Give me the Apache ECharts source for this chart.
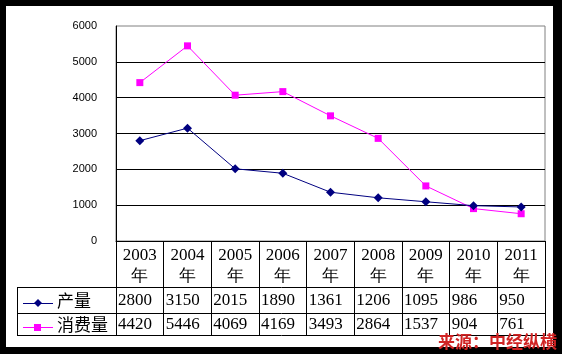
<!DOCTYPE html>
<html><head><meta charset="utf-8">
<script src="https://cdn.jsdelivr.net/npm/echarts@6/dist/echarts.min.js"></script>
<style>
html,body{margin:0;padding:0;background:#000;}
#wrap{position:relative;width:562px;height:354px;background:#000;}
#paper{position:absolute;left:6px;top:6px;width:547px;height:341px;background:#fff;}
#c{position:absolute;left:0;top:0;width:562px;height:354px;}
</style>
</head><body>
<div id="wrap"><div id="paper"></div><div id="c"></div></div>
<script>
const years = ['2003','2004','2005','2006','2007','2008','2009','2010','2011'];
const yearSuffix = '年';
const seriesNames = ['产量', '消费量'];
const production = [2800, 3150, 2015, 1890, 1361, 1206, 1095, 986, 950];
const consumption = [4420, 5446, 4069, 4169, 3493, 2864, 1537, 904, 761];
const yTicks = [0, 1000, 2000, 3000, 4000, 5000, 6000];
const sourceText = '来源：中经纵横';

const W = 562, H = 354;
const G = {left: 116, right: 17, top: 26, bottom: 113};
const headerH = 46, rowH = [26, 22], legendLeft = 17;
const colors = ['#000080', '#ff00ff'];
const numFont = '"Liberation Serif", serif';
const cjkFont = '"Noto Sans CJK SC", sans-serif';

const chart = echarts.init(document.getElementById('c'), null, {renderer: 'canvas'});
const tableBottom = H - G.bottom + headerH + rowH[0] + rowH[1];

chart.setOption({
  backgroundColor: 'transparent',
  animation: false,
  grid: {left: G.left, right: G.right, top: G.top, bottom: G.bottom, show: true,
         borderColor: '#808080', borderWidth: 1, backgroundColor: 'transparent'},
  xAxis: {
    type: 'category', data: years, boundaryGap: true,
    axisLine: {show: true, lineStyle: {color: '#000', width: 1}},
    axisTick: {show: true, length: headerH + rowH[0] + rowH[1], lineStyle: {color: '#000'}},
    axisLabel: {
      formatter: v => v + '\n' + yearSuffix,
      fontFamily: numFont, fontSize: 17, lineHeight: 21, color: '#000', margin: 4,
      interval: 0
    },
    splitLine: {show: false}
  },
  yAxis: {
    type: 'value', min: yTicks[0], max: yTicks[yTicks.length - 1], interval: yTicks[1] - yTicks[0],
    axisLine: {show: true, lineStyle: {color: '#000'}},
    axisTick: {show: false},
    axisLabel: {formatter: v => String(v), fontFamily: '"Liberation Sans", Arial, sans-serif', fontSize: 11, color: '#000', margin: 19},
    splitLine: {show: true, showMaxLine: false, lineStyle: {color: '#000', width: 1}}
  },
  series: [
    {name: seriesNames[0], type: 'line', data: production, symbol: 'diamond', symbolSize: 9,
     lineStyle: {color: colors[0], width: 1}, itemStyle: {color: colors[0]}, z: 3},
    {name: seriesNames[1], type: 'line', data: consumption, symbol: 'rect', symbolSize: 7,
     lineStyle: {color: colors[1], width: 1}, itemStyle: {color: colors[1]}, z: 2}
  ]
});

// data table below the axis, positioned from the axis scale
const plotRight = W - G.right;
const axisY = H - G.bottom;
const colW = (plotRight - G.left) / years.length;
const rowTops = [axisY + headerH, axisY + headerH + rowH[0]];
const els = [];
const hLine = (y, x1, x2) => els.push({type: 'line', shape: {x1: x1, y1: Math.round(y) + 0.5, x2: x2, y2: Math.round(y) + 0.5}, style: {stroke: '#000', lineWidth: 1}, silent: true});
hLine(rowTops[0], legendLeft, plotRight + 1);
hLine(rowTops[1], legendLeft, plotRight + 1);
hLine(tableBottom, legendLeft, plotRight + 1);
els.push({type: 'line', shape: {x1: legendLeft + 0.5, y1: rowTops[0], x2: legendLeft + 0.5, y2: tableBottom + 1}, style: {stroke: '#000', lineWidth: 1}, silent: true});

const rows = [production, consumption];
rows.forEach((vals, r) => {
  const cy = rowTops[r] + rowH[r] / 2 + 1;
  const ly = cy + 2;
  els.push({type: 'line', shape: {x1: 23, y1: Math.round(ly) + 0.5, x2: 53, y2: Math.round(ly) + 0.5}, style: {stroke: colors[r], lineWidth: 1}, silent: true});
  if (r === 0) {
    els.push({type: 'polygon', shape: {points: [[38, ly - 4], [42, ly], [38, ly + 4], [34, ly]]}, style: {fill: colors[r]}, silent: true});
  } else {
    els.push({type: 'rect', shape: {x: 34, y: ly - 3, width: 7, height: 7}, style: {fill: colors[r]}, silent: true});
  }
  els.push({type: 'text', x: 57, y: cy, style: {text: seriesNames[r], font: '17px ' + cjkFont, fill: '#000', verticalAlign: 'middle', align: 'left'}, silent: true});
  vals.forEach((v, i) => {
    const cx = chart.convertToPixel({xAxisIndex: 0}, i);
    const left = cx - colW / 2;
    els.push({type: 'text', x: left + 2, y: cy, style: {text: String(v), font: '17px ' + numFont, fill: '#000', verticalAlign: 'middle', align: 'left'}, silent: true});
  });
});
els.push({type: 'text', x: 438, y: 342, z: 100, style: {text: sourceText, font: 'bold 17px ' + cjkFont, fill: '#d02424', verticalAlign: 'middle', align: 'left'}, silent: true});
chart.setOption({graphic: {elements: els}});
</script>
</body></html>
